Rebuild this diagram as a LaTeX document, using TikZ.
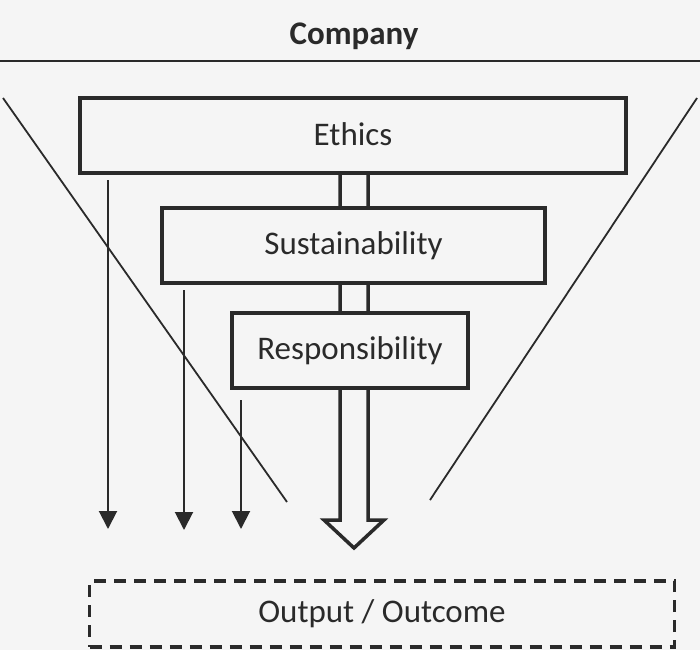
\documentclass[tikz,border=0pt]{standalone}
\usepackage{fontspec}
\setmainfont{Carlito}
\usetikzlibrary{arrows.meta}
\definecolor{bg}{HTML}{F5F5F5}
\definecolor{ink}{HTML}{2A2A2A}
\begin{document}
\begin{tikzpicture}[x=1pt,y=-1pt,
  boxstyle/.style={draw=ink,line width=3.5pt,fill=bg,text=ink,font=\fontsize{33}{38}\selectfont,inner sep=0pt},
  thin/.style={draw=ink,line width=1.8pt},
  downarrow/.style={draw=ink,line width=2pt,-{Triangle[width=18pt,length=18pt]}},
]
\fill[bg] (0,0) rectangle (700,650);
\useasboundingbox (0,0) rectangle (700,650);
% title
\node[text=ink,font=\fontsize{33}{38}\selectfont\bfseries] (company) at (354,36.5) {Company};
\coordinate (hl) at (0,61);
\coordinate (hr) at (700,61);
\draw[thin] (hl) -- (hr);
% funnel lines
\coordinate (fl1) at (3,98);
\coordinate (fl2) at (287,502);
\coordinate (fr1) at (697,98);
\coordinate (fr2) at (430,500);
\draw[thin] (fl1) -- (fl2);
\draw[thin] (fr1) -- (fr2);
% hollow arrow
\coordinate (ha) at (354,548);
\draw[ink,line width=3.5pt,fill=bg,line join=miter]
  (340,150) -- (340,520) -- (324,520) -- (ha) -- (384,520) -- (368,520) -- (368,150) -- cycle;
% boxes
\node[boxstyle,minimum width=546pt,minimum height=75pt] (ethics) at (353,135.5) {\raisebox{3pt}{Ethics}};
\node[boxstyle,minimum width=383pt,minimum height=75pt] (sust) at (353.5,245.5) {\raisebox{2pt}{Sustainability}};
\node[boxstyle,minimum width=236pt,minimum height=75pt] (resp) at (350,350.5) {\raisebox{2pt}{Responsibility}};
% thin arrows
\coordinate (a1s) at (108,180);
\coordinate (a1e) at (108,529);
\coordinate (a2s) at (184,290);
\coordinate (a2e) at (184,530);
\coordinate (a3s) at (241,400);
\coordinate (a3e) at (241,529);
\draw[downarrow] (a1s) -- (a1e);
\draw[downarrow] (a2s) -- (a2e);
\draw[downarrow] (a3s) -- (a3e);
% output box
\node[draw=ink,line width=3.5pt,dash pattern=on 12pt off 8pt,text=ink,font=\fontsize{33}{38}\selectfont,minimum width=585pt,minimum height=66pt,inner sep=0pt] (out) at (382,614) {\raisebox{-1.5pt}{Output / Outcome}};
\end{tikzpicture}
\end{document}
